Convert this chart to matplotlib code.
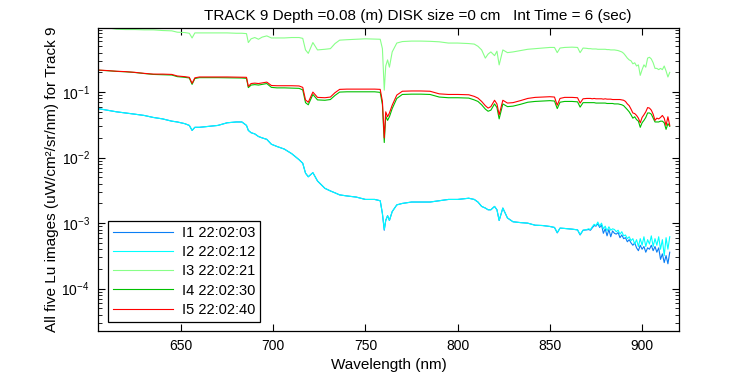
import matplotlib
matplotlib.use('Agg')
import matplotlib.pyplot as plt
import numpy as np

plt.rcParams['font.family'] = ['Liberation Sans', 'DejaVu Sans']
plt.rcParams['mathtext.fontset'] = 'custom'
plt.rcParams['mathtext.rm'] = 'Liberation Sans'

# wavelengths (nm), shared by the five Lu images
wl = [605, 610, 615, 620, 625, 630, 635, 640, 645, 648,
      652, 654.5, 656, 657.5, 660, 665, 670, 675, 680, 683,
      685.5, 686.5, 688, 690, 692, 694, 696.5, 699, 702, 706,
      710, 714, 716, 717.5, 719, 721.5, 724, 728, 731, 733.5,
      736, 740, 745, 750, 755, 758, 759.2, 760.2, 761, 762,
      763, 764.5, 767, 770, 775, 780, 785, 790, 795, 800,
      806, 809, 811, 813, 815, 816.5, 818, 820, 821.3, 822.5,
      824.5, 827, 830, 834, 838, 842, 846, 850, 852.5, 854,
      855.5, 858, 862, 865, 866.4, 868, 870,
      871, 872, 873, 874, 875, 876, 877, 878, 879, 880,
      881, 882, 883, 884, 885, 886, 887, 888, 889, 890,
      891, 892, 893, 894, 895, 896, 897, 898, 899, 900,
      901, 902, 903, 904, 905, 906, 907, 908, 909, 910,
      911, 912, 913, 914, 915]

I1 = [0.056, 0.053, 0.050, 0.048, 0.046, 0.044, 0.041, 0.039, 0.036, 0.035,
      0.033, 0.031, 0.026, 0.029, 0.029, 0.030, 0.031, 0.034, 0.035, 0.035,
      0.031, 0.026, 0.024, 0.023, 0.021, 0.020, 0.019, 0.016, 0.0148, 0.0135,
      0.0115, 0.0093, 0.0082, 0.0058, 0.0051, 0.0059, 0.0044, 0.0034, 0.0031, 0.0029,
      0.0027, 0.0026, 0.0025, 0.0023, 0.0023, 0.0022, 0.0014, 0.00078, 0.0011, 0.0013,
      0.0011, 0.0015, 0.0019, 0.0020, 0.0021, 0.0021, 0.0021, 0.0022, 0.0023, 0.0023,
      0.0024, 0.0023, 0.0021, 0.0018, 0.0017, 0.0016, 0.0016, 0.0018, 0.0016, 0.0011,
      0.0017, 0.0012, 0.00105, 0.00102, 0.00100, 0.00093, 0.00092, 0.00089, 0.00086, 0.00071,
      0.00084, 0.00083, 0.00081, 0.00079, 0.00066, 0.00078, 0.00079,
      0.00080, 0.00078, 0.00085, 0.00092, 0.00090, 0.00098, 0.00086, 0.00094, 0.00070, 0.00082,
      0.00064, 0.00080, 0.00062, 0.00076, 0.00070, 0.00068, 0.00072, 0.00060, 0.00066, 0.00058,
      0.00060, 0.00052, 0.00056, 0.00050, 0.00046, 0.00050, 0.00042, 0.00038, 0.00046, 0.00040,
      0.00044, 0.00036, 0.00042, 0.00040, 0.00046, 0.00038, 0.00044, 0.00036, 0.00042, 0.00028,
      0.00034, 0.00025, 0.00032, 0.00024, 0.00036]

I2 = [0.056, 0.053, 0.050, 0.048, 0.046, 0.044, 0.041, 0.039, 0.036, 0.035,
      0.033, 0.031, 0.026, 0.029, 0.029, 0.030, 0.031, 0.034, 0.035, 0.035,
      0.031, 0.026, 0.024, 0.023, 0.021, 0.020, 0.019, 0.016, 0.0148, 0.0135,
      0.0115, 0.0093, 0.0082, 0.0058, 0.0051, 0.0059, 0.0044, 0.0034, 0.0031, 0.0029,
      0.0027, 0.0026, 0.0025, 0.0023, 0.0023, 0.0022, 0.0014, 0.00080, 0.0011, 0.0013,
      0.0011, 0.0015, 0.0019, 0.0020, 0.0021, 0.0021, 0.0021, 0.0022, 0.0023, 0.0023,
      0.0024, 0.0023, 0.0021, 0.0018, 0.0017, 0.0016, 0.0016, 0.0018, 0.0016, 0.0011,
      0.0017, 0.0012, 0.00105, 0.00102, 0.00100, 0.00093, 0.00092, 0.00089, 0.00086, 0.00072,
      0.00084, 0.00083, 0.00081, 0.00079, 0.00067, 0.00078, 0.00080,
      0.00082, 0.00080, 0.00088, 0.00096, 0.00092, 0.00104, 0.00090, 0.00100, 0.00082, 0.00090,
      0.00076, 0.00088, 0.00078, 0.00082, 0.00080, 0.00074, 0.00078, 0.00068, 0.00074, 0.00064,
      0.00066, 0.00058, 0.00062, 0.00054, 0.00058, 0.00048, 0.00056, 0.00044, 0.00058, 0.00046,
      0.00062, 0.00044, 0.00056, 0.00048, 0.00064, 0.00044, 0.00058, 0.00046, 0.00062, 0.00040,
      0.00056, 0.00032, 0.00060, 0.00040, 0.00062]

I3 = [0.98, 0.96, 0.91, 0.90, 0.90, 0.89, 0.89, 0.87, 0.86, 0.82,
      0.81, 0.79, 0.67, 0.80, 0.80, 0.80, 0.80, 0.80, 0.79, 0.79,
      0.78, 0.57, 0.65, 0.68, 0.64, 0.69, 0.72, 0.67, 0.67, 0.67,
      0.68, 0.68, 0.66, 0.44, 0.39, 0.57, 0.44, 0.45, 0.46, 0.55,
      0.62, 0.63, 0.64, 0.65, 0.645, 0.64, 0.46, 0.107, 0.25, 0.31,
      0.24, 0.41, 0.56, 0.59, 0.60, 0.60, 0.595, 0.585, 0.56, 0.56,
      0.55, 0.54, 0.50, 0.44, 0.33, 0.38, 0.41, 0.36, 0.42, 0.26,
      0.44, 0.40, 0.41, 0.43, 0.45, 0.46, 0.47, 0.48, 0.48, 0.40,
      0.47, 0.48, 0.485, 0.48, 0.40, 0.47, 0.465,
      0.46, 0.46, 0.455, 0.455, 0.455, 0.45, 0.45, 0.45, 0.45, 0.45,
      0.445, 0.445, 0.44, 0.44, 0.44, 0.435, 0.43, 0.42, 0.41, 0.39,
      0.36, 0.33, 0.31, 0.30, 0.27, 0.28, 0.25, 0.26, 0.18, 0.22,
      0.26, 0.24, 0.33, 0.34, 0.32, 0.28, 0.23, 0.23, 0.22, 0.23,
      0.22, 0.25, 0.21, 0.17, 0.20]

I4 = [0.216, 0.212, 0.207, 0.204, 0.199, 0.192, 0.186, 0.184, 0.182, 0.172,
      0.168, 0.164, 0.131, 0.161, 0.166, 0.166, 0.166, 0.165, 0.164, 0.164,
      0.162, 0.117, 0.128, 0.130, 0.128, 0.131, 0.135, 0.118, 0.116, 0.116,
      0.115, 0.114, 0.108, 0.069, 0.064, 0.092, 0.076, 0.075, 0.077, 0.089,
      0.100, 0.101, 0.101, 0.101, 0.101, 0.099, 0.064, 0.017, 0.043, 0.037,
      0.042, 0.056, 0.080, 0.092, 0.093, 0.093, 0.092, 0.084, 0.082, 0.082,
      0.081, 0.076, 0.072, 0.064, 0.055, 0.051, 0.053, 0.066, 0.058, 0.039,
      0.066, 0.060, 0.061, 0.065, 0.070, 0.072, 0.073, 0.074, 0.073, 0.056,
      0.070, 0.072, 0.072, 0.071, 0.059, 0.069, 0.069,
      0.069, 0.069, 0.069, 0.069, 0.068, 0.068, 0.068, 0.068, 0.068, 0.068,
      0.067, 0.067, 0.067, 0.067, 0.066, 0.066, 0.066, 0.065, 0.064, 0.062,
      0.058, 0.054, 0.050, 0.045, 0.040, 0.042, 0.038, 0.036, 0.029, 0.034,
      0.037, 0.041, 0.048, 0.048, 0.046, 0.040, 0.035, 0.035, 0.035, 0.036,
      0.036, 0.034, 0.027, 0.033, 0.030]

I5 = [0.217, 0.213, 0.208, 0.205, 0.200, 0.193, 0.188, 0.188, 0.186, 0.176,
      0.172, 0.168, 0.136, 0.165, 0.170, 0.170, 0.170, 0.170, 0.169, 0.169,
      0.168, 0.122, 0.135, 0.137, 0.135, 0.138, 0.142, 0.126, 0.125, 0.125,
      0.125, 0.124, 0.118, 0.076, 0.070, 0.100, 0.083, 0.082, 0.084, 0.098,
      0.110, 0.111, 0.111, 0.111, 0.111, 0.110, 0.072, 0.020, 0.050, 0.042,
      0.048, 0.063, 0.090, 0.103, 0.104, 0.104, 0.103, 0.094, 0.092, 0.092,
      0.091, 0.086, 0.081, 0.072, 0.062, 0.057, 0.060, 0.075, 0.066, 0.045,
      0.075, 0.068, 0.069, 0.074, 0.080, 0.083, 0.084, 0.085, 0.084, 0.063,
      0.080, 0.083, 0.083, 0.082, 0.068, 0.079, 0.080,
      0.080, 0.080, 0.079, 0.080, 0.079, 0.079, 0.079, 0.079, 0.078, 0.079,
      0.078, 0.078, 0.078, 0.077, 0.077, 0.077, 0.077, 0.077, 0.076, 0.075,
      0.072, 0.066, 0.062, 0.055, 0.048, 0.047, 0.044, 0.040, 0.034, 0.041,
      0.045, 0.050, 0.058, 0.057, 0.053, 0.046, 0.037, 0.040, 0.039, 0.041,
      0.044, 0.040, 0.031, 0.042, 0.031]

labels = ['I1 22:02:03', 'I2 22:02:12', 'I3 22:02:21', 'I4 22:02:30', 'I5 22:02:40']
colors = ['#0a7ff5', '#00ffff', '#88ff88', '#00c000', '#ff0000']

fig = plt.figure(figsize=(7.5, 3.75), dpi=100)
ax = fig.add_axes([0.1307, 0.1173, 0.7746, 0.8072])

for series, lab, col in zip([I1, I2, I3, I4, I5], labels, colors):
    ax.semilogy(wl, series, color=col, lw=0.8, label=lab)

ax.set_xlim(605, 920)
ax.set_ylim(2.26e-5, 0.94)
ax.set_xticks([650, 700, 750, 800, 850, 900])
ax.tick_params(which='both', direction='in', top=True, right=True, labelsize=10)
ax.tick_params(which='major', length=5, pad=6)
ax.tick_params(which='minor', length=3)
for s in ax.spines.values():
    s.set_linewidth(0.9)

ax.set_xlabel('Wavelength (nm)', fontsize=11, labelpad=3)
ax.set_ylabel('All five Lu images (uW/cm²/sr/nm) for Track 9', fontsize=11, labelpad=2)
ax.set_title('TRACK 9 Depth =0.08 (m) DISK size =0 cm   Int Time = 6 (sec)',
             fontsize=11, x=0.551, pad=6)

leg = ax.legend(loc='lower left', bbox_to_anchor=(0.017, 0.03), borderaxespad=0,
                fontsize=10.5, handlelength=4.1, handletextpad=0.6, labelspacing=0.36,
                borderpad=0.35, fancybox=False, framealpha=1, edgecolor='black')
leg.get_frame().set_linewidth(0.9)

plt.savefig('out.png', dpi=100)
